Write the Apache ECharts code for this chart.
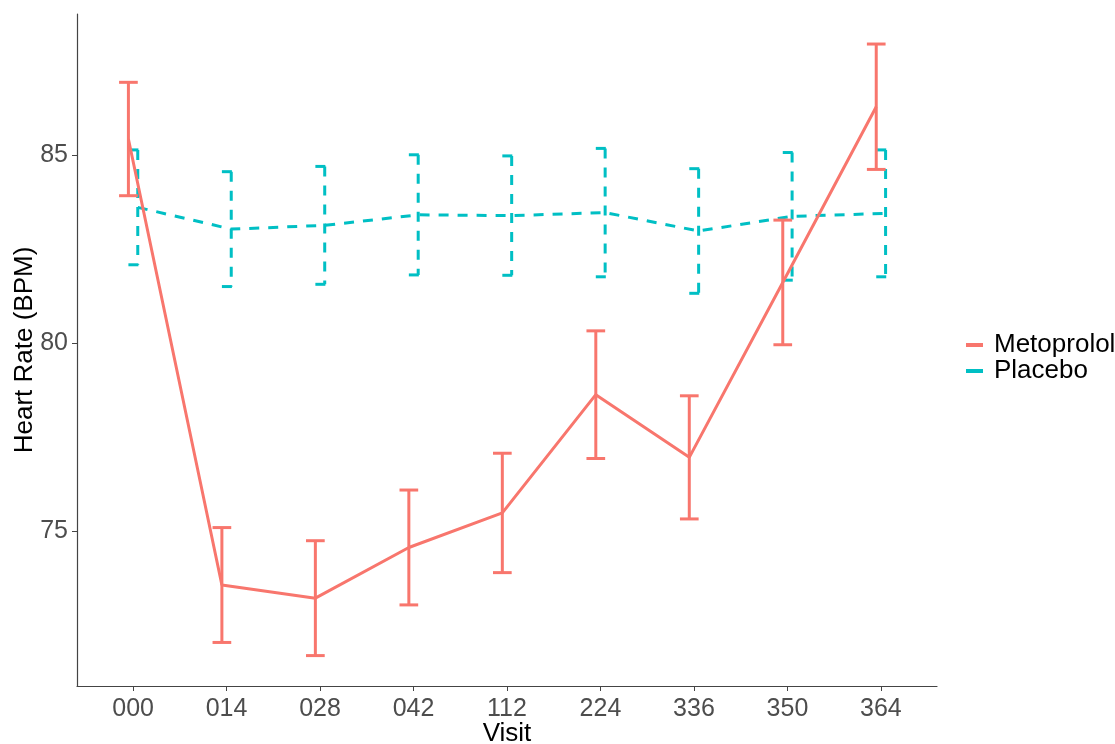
<!DOCTYPE html>
<html>
<head>
<meta charset="utf-8">
<script src="https://cdn.jsdelivr.net/npm/echarts@6/dist/echarts.min.js"></script>
<style>
  html, body { margin: 0; padding: 0; background: #fff; }
  #main { width: 1115px; height: 744px; }
</style>
</head>
<body>
<div id="main"></div>
<script>
// visit labels (x categories)
var visits = ['000', '014', '028', '042', '112', '224', '336', '350', '364'];
// mean heart rate and standard error per group
var metoMean = [85.44, 73.56, 73.21, 74.56, 75.48, 78.63, 76.96, 81.62, 86.30];
var metoSe = [1.51, 1.53, 1.53, 1.53, 1.59, 1.70, 1.64, 1.66, 1.67];
var placMean = [83.62, 83.04, 83.14, 83.42, 83.40, 83.48, 82.99, 83.38, 83.46];
var placSe = [1.53, 1.53, 1.57, 1.60, 1.59, 1.71, 1.66, 1.70, 1.69];
var yTicks = [75, 80, 85];

var RED = '#F8766D';
var TEAL = '#00BFC4';
var FONT = '"Liberation Sans", Arial, sans-serif';
var dodge = 0.05;

function linePoints(means, offset) {
    return means.map(function (m, i) { return [i + offset, m]; });
}

function errorBars(name, means, ses, offset, color, dash) {
    return {
        name: name,
        type: 'custom',
        z: 3,
        data: means.map(function (m, i) { return [i + offset, m - ses[i], m + ses[i]]; }),
        encode: { x: 0, y: [1, 2] },
        renderItem: function (params, api) {
            var x = api.value(0);
            var lo = api.coord([x, api.value(1)]);
            var hi = api.coord([x, api.value(2)]);
            var half = api.size([0.1, 0])[0];
            var st = { stroke: color, lineWidth: 3, lineDash: dash, fill: null };
            return {
                type: 'group',
                children: [
                    { type: 'line', shape: { x1: hi[0] - half, y1: hi[1], x2: hi[0] + half, y2: hi[1] }, style: st },
                    { type: 'line', shape: { x1: hi[0], y1: hi[1], x2: lo[0], y2: lo[1] }, style: st },
                    { type: 'line', shape: { x1: lo[0] - half, y1: lo[1], x2: lo[0] + half, y2: lo[1] }, style: st }
                ]
            };
        }
    };
}

var chart = echarts.init(document.getElementById('main'));
var option = {
    animation: false,
    backgroundColor: '#fff',
    grid: { left: 77, right: 178, top: 14, bottom: 58, containLabel: false, outerBoundsMode: 'none' },
    legend: {
        data: ['Metoprolol', 'Placebo'],
        orient: 'vertical',
        left: 961,
        top: 327,
        icon: 'rect',
        itemWidth: 17,
        itemHeight: 4,
        itemGap: 0,
        selectedMode: false,
        textStyle: { fontFamily: FONT, fontSize: 26, color: '#000', lineHeight: 25, padding: [0, 0, 0, 6] }
    },
    xAxis: {
        type: 'value',
        min: -0.6,
        max: 8.6,
        name: 'Visit',
        nameLocation: 'middle',
        nameGap: 35,
        nameMoveOverlap: false,
        nameTextStyle: { fontFamily: FONT, fontSize: 26, color: '#000' },
        splitLine: { show: false },
        axisLine: { show: true, onZero: false, lineStyle: { color: '#444', width: 1.2 } },
        axisTick: { show: true, length: 5, lineStyle: { color: '#444' }, customValues: visits.map(function (v, i) { return i; }) },
        axisLabel: {
            fontFamily: FONT, fontSize: 25, color: '#4d4d4d', margin: 11,
            customValues: visits.map(function (v, i) { return i; }),
            formatter: function (v) { return visits[Math.round(v)]; }
        }
    },
    yAxis: {
        type: 'value',
        min: 70.87,
        max: 88.77,
        name: 'Heart Rate (BPM)',
        nameLocation: 'middle',
        nameGap: 39,
        nameMoveOverlap: false,
        nameTextStyle: { fontFamily: FONT, fontSize: 26, color: '#000' },
        splitLine: { show: false },
        axisLine: { show: true, onZero: false, lineStyle: { color: '#444', width: 1.2 } },
        axisTick: { show: true, length: 5, lineStyle: { color: '#444' }, customValues: yTicks },
        axisLabel: { fontFamily: FONT, fontSize: 25, color: '#4d4d4d', margin: 9, customValues: yTicks }
    },
    series: [
        {
            name: 'Placebo',
            type: 'line',
            z: 2,
            data: linePoints(placMean, dodge),
            symbol: 'none',
            color: TEAL,
            lineStyle: { color: TEAL, width: 3, type: [10, 9] }
        },
        errorBars('Placebo SE', placMean, placSe, dodge, TEAL, [10, 9]),
        {
            name: 'Metoprolol',
            type: 'line',
            z: 4,
            data: linePoints(metoMean, -dodge),
            symbol: 'none',
            color: RED,
            lineStyle: { color: RED, width: 3 }
        },
        errorBars('Metoprolol SE', metoMean, metoSe, -dodge, RED, null)
    ]
};
chart.setOption(option);
</script>
</body>
</html>
